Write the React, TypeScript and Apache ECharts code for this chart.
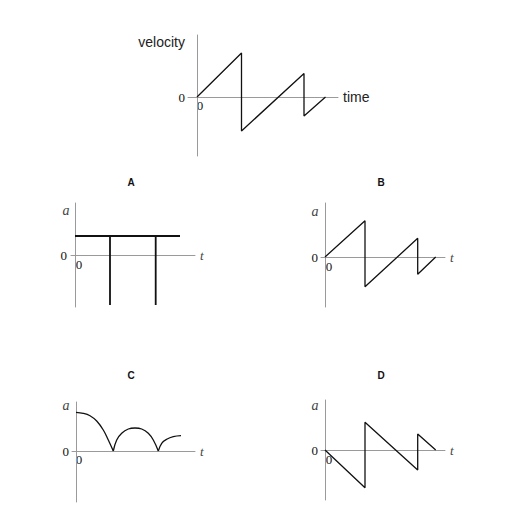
import React, { useEffect, useRef } from "react";
import * as echarts from "echarts";

// Top graph: velocity vs time
const velocityT = [0, 4.45, 4.45, 10.7, 10.7, 12.85];
const velocityV = [0, 4.4, -3.4, 2.35, -1.9, 0];

// Panel A
const aT = [0, 3.5, 3.5, 3.5, 8.07, 8.07, 8.07, 10.5];
const aA = [1.9, 1.9, -5.0, 1.9, 1.9, -5.0, 1.9, 1.9];

// Panel B
const bT = [0, 4.0, 4.0, 9.27, 9.27, 11.07];
const bA = [0, 3.63, -2.97, 1.87, -1.73, 0];

// Panel C (three arcs)
const c1T = [0, 0.73, 1.4, 2.07, 2.73, 3.23, 3.73];
const c1A = [3.87, 3.77, 3.53, 3.0, 2.1, 1.1, 0];
const c2T = [3.73, 4.07, 4.57, 5.23, 5.9, 6.57, 7.23, 7.73, 8.23];
const c2A = [0, 1.1, 1.77, 2.2, 2.3, 2.2, 1.77, 1.1, 0];
const c3T = [8.23, 8.57, 9.07, 9.73, 10.5];
const c3A = [0, 0.77, 1.17, 1.43, 1.53];

// Panel D
const dT = [0, 4.0, 4.0, 9.27, 9.27, 11.07];
const dA = [0, -3.77, 2.77, -2.0, 1.6, 0];

const panelLetters = ["A", "B", "C", "D"];
const zeroLabel = [0];
const originLabel = "0";

const pairs = (xs: number[], ys: number[]) => xs.map((x, i) => [x, ys[i]]);

export default function App() {
  const ref = useRef<HTMLDivElement>(null);
  useEffect(() => {
    if (!ref.current) return;
    const chart = echarts.init(ref.current, null, { renderer: "svg" });
    const axisColor = "#9a9a9a";
    const curveColor = "#111";
    const serif = "Liberation Serif";
    const sans = "Liberation Sans";

    const grids = [
      { left: 188, top: 35, width: 150, height: 121 },
      { left: 71, top: 203, width: 124, height: 104 },
      { left: 321, top: 203, width: 124, height: 104 },
      { left: 72, top: 402, width: 123, height: 100 },
      { left: 321, top: 400, width: 124, height: 100 },
    ];
    const xRanges = [
      [-0.9, 14.1],
      [-0.4, 12.0],
      [-0.4, 12.0],
      [-0.4, 11.9],
      [-0.4, 12.0],
    ];
    const yRanges = [
      [-5.9, 6.2],
      [-5.2, 5.2],
      [-5.0, 5.4],
      [-5.1, 4.9],
      [-5.0, 5.0],
    ];
    const yLabelMargin = [3, 4, 3, 3, 3];

    const xAxis = grids.map((_, i) => ({
      type: "value",
      gridIndex: i,
      min: xRanges[i][0],
      max: xRanges[i][1],
      axisLine: { show: true, onZero: true, lineStyle: { color: axisColor, width: 1 } },
      axisTick: { show: false },
      splitLine: { show: false },
      axisLabel: { show: false },
      name: i === 0 ? "time" : "t",
      nameLocation: "end",
      nameGap: 5,
      nameTextStyle:
        i === 0
          ? { fontFamily: sans, fontSize: 14, color: "#222" }
          : { fontFamily: serif, fontStyle: "italic", fontSize: 13, color: "#444" },
    }));

    const yAxis = grids.map((_, i) => ({
      type: "value",
      gridIndex: i,
      min: yRanges[i][0],
      max: yRanges[i][1],
      axisLine: { show: true, onZero: true, lineStyle: { color: axisColor, width: 1 } },
      axisTick: { show: false },
      splitLine: { show: false },
      axisLabel: {
        customValues: zeroLabel,
        margin: yLabelMargin[i],
        fontFamily: serif,
        fontSize: 13,
        color: "#111",
      },
    }));

    const line = (idx: number, data: number[][], width = 1.3, smooth: boolean | number = false) => ({
      type: "line",
      xAxisIndex: idx,
      yAxisIndex: idx,
      data,
      showSymbol: false,
      symbol: "none",
      smooth,
      lineStyle: { color: curveColor, width },
      silent: true,
    });

    const series = [
      line(0, pairs(velocityT, velocityV)),
      line(1, pairs(aT, aA), 1.8),
      line(2, pairs(bT, bA)),
      line(3, pairs(c1T, c1A), 1.3, 0.4),
      line(3, pairs(c2T, c2A), 1.3, 0.4),
      line(3, pairs(c3T, c3A), 1.3, 0.4),
      line(4, pairs(dT, dA)),
    ];

    const letterPos = [
      [131, 182],
      [381, 182],
      [131, 375],
      [381, 375],
    ];
    const aPos = [
      [66, 210],
      [315, 211],
      [66, 405],
      [315, 405],
    ];
    // centres of the "0" drawn just under each origin
    const originPos = [
      [200, 105],
      [79, 264],
      [329, 266],
      [79, 459],
      [329, 459],
    ];

    const graphic: any[] = [
      {
        type: "text",
        x: 185,
        y: 42,
        style: {
          text: "velocity",
          fontFamily: sans,
          fontSize: 14,
          fill: "#222",
          align: "right",
          verticalAlign: "middle",
        },
      },
    ];
    originPos.forEach((p) => {
      graphic.push({
        type: "text",
        x: p[0],
        y: p[1],
        z: -1,
        style: {
          text: originLabel,
          fontFamily: serif,
          fontSize: 13,
          fill: "#111",
          align: "center",
          verticalAlign: "middle",
        },
      });
    });
    panelLetters.forEach((l, i) => {
      graphic.push({
        type: "text",
        x: letterPos[i][0],
        y: letterPos[i][1],
        style: {
          text: l,
          fontFamily: sans,
          fontWeight: "bold",
          fontSize: 10,
          fill: "#111",
          align: "center",
          verticalAlign: "middle",
        },
      });
      graphic.push({
        type: "text",
        x: aPos[i][0],
        y: aPos[i][1],
        style: {
          text: "a",
          fontFamily: serif,
          fontStyle: "italic",
          fontSize: 14,
          fill: "#444",
          align: "center",
          verticalAlign: "middle",
        },
      });
    });

    chart.setOption({
      animation: false,
      backgroundColor: "#ffffff",
      grid: grids.map((g) => ({ ...g, containLabel: false, outerBoundsMode: "none" })),
      xAxis,
      yAxis,
      series,
      graphic,
    } as any);
    return () => chart.dispose();
  }, []);
  return (
    <div
      ref={ref}
      style={{ position: "absolute", left: 0, top: 0, width: 511, height: 530 }}
    />
  );
}
